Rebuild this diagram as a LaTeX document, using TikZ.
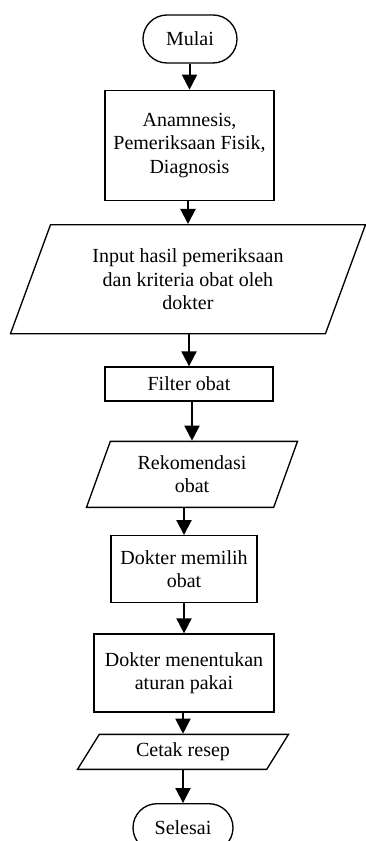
\documentclass[tikz,border=0pt]{standalone}
\usepackage{fontspec}
\setmainfont{Liberation Serif}
\usetikzlibrary{positioning,shapes.geometric,shapes.misc,arrows.meta}

\begin{document}
\begin{tikzpicture}[
terminal/.style={rounded rectangle, draw=black, line width=0.8pt, minimum width=56.4pt, minimum height=28.8pt, inner sep=0pt, font=\fontsize{12pt}{14pt}\selectfont},
process/.style={rectangle, draw=black, line width=0.8pt, align=center, inner sep=0pt, font=\fontsize{12pt}{14pt}\selectfont},
data/.style={trapezium, trapezium stretches body, draw=black, line width=0.8pt, align=center, inner sep=0pt, font=\fontsize{12pt}{14pt}\selectfont},
flow/.style={-{Triangle[length=9pt,width=9pt]}, line width=1.2pt}
]
\useasboundingbox (0,0) rectangle (219pt,-504.6pt);

\node[terminal](mulai) at (114pt,-23.4pt){Mulai};

\node[process, minimum width=101.4pt, minimum height=66pt](anamnesis)[below=15.6pt of mulai,xshift=-0.3pt]{Anamnesis,\\Pemeriksaan Fisik,\\Diagnosis};
\node[data, trapezium left angle=56.6, trapezium right angle=123.4, minimum width=213pt, minimum height=65.4pt](input)[below=13.8pt of anamnesis,xshift=-0.9pt]{Input hasil pemeriksaan\\dan kriteria obat oleh\\dokter};
\node[process, minimum width=100.8pt, minimum height=20.4pt](filter)[below=19.2pt of input,xshift=0.6pt]{Filter obat};
\node[data, trapezium left angle=57.5, trapezium right angle=122.5, minimum width=126.6pt, minimum height=39.6pt](rekomendasi)[below=23.4pt of filter,xshift=1.8pt]{Rekomendasi\\obat};
\node[process, minimum width=87.6pt, minimum height=40.2pt](memilih)[below=16.2pt of rekomendasi,xshift=-4.8pt]{Dokter memilih\\obat};
\node[process, minimum width=108pt, minimum height=46.8pt](aturan)[below=18pt of memilih]{Dokter menentukan\\aturan pakai};
\node[data, trapezium left angle=39.8, trapezium right angle=140.2, minimum width=126.6pt, minimum height=21pt](cetak)[below=12.6pt of aturan,xshift=-0.6pt]{Cetak resep};
\node[terminal, minimum width=60pt](selesai)[below=19.8pt of cetak]{Selesai};

\draw[flow] (anamnesis.north |- mulai.south) -- (anamnesis.north);
\draw[flow] (input.north |- anamnesis.south) -- (input.north);
\draw[flow] (filter.north |- input.south) -- (filter.north);
\draw[flow] (rekomendasi.north |- filter.south) -- (rekomendasi.north);
\draw[flow] (memilih.north |- rekomendasi.south) -- (memilih.north);
\draw[flow] (aturan.north |- memilih.south) -- (aturan.north);
\draw[flow] (cetak.north |- aturan.south) -- (cetak.north);
\draw[flow] (selesai.north |- cetak.south) -- (selesai.north);
\end{tikzpicture}
\end{document}
